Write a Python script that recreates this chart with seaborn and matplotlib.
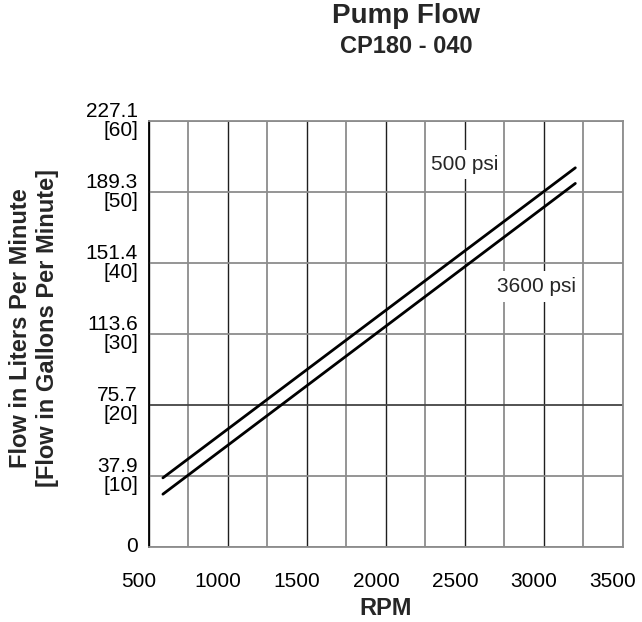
import matplotlib
matplotlib.use("Agg")
import matplotlib.pyplot as plt
from matplotlib.ticker import MultipleLocator
from matplotlib.transforms import ScaledTranslation
import seaborn as sns

# Data (flow in GPM vs pump speed)
rpm = [590, 3200]
gpm_500psi = [9.7, 53.4]
gpm_3600psi = [7.4, 51.2]

ytick_values = [0, 10, 20, 30, 40, 50, 60]
ytick_labels = ["0", "37.9\n[10]", "75.7\n[20]", "113.6\n[30]",
                "151.4\n[40]", "189.3\n[50]", "227.1\n[60]"]
xtick_values = [500, 1000, 1500, 2000, 2500, 3000, 3500]

sns.set_style("white")
plt.rcParams["font.family"] = ["Liberation Sans", "DejaVu Sans"]

fig = plt.figure(figsize=(6.42, 6.22), dpi=100)
ax = fig.add_axes([0.2316, 0.1211, 0.7384, 0.6844])

sns.lineplot(x=rpm, y=gpm_500psi, color="black", linewidth=2.0, ax=ax)
sns.lineplot(x=rpm, y=gpm_3600psi, color="black", linewidth=2.0, ax=ax)

ax.set_xlim(500, 3500)
ax.set_ylim(0, 60)
ax.set_xticks(xtick_values)
ax.xaxis.set_minor_locator(MultipleLocator(250))
ax.set_yticks(ytick_values)
ax.set_yticklabels(ytick_labels, linespacing=1.0, va="center")
ax.yaxis.set_minor_locator(MultipleLocator(5))

# grid: dark lines every 500 rpm, grey in between
ax.set_axisbelow(True)
ax.grid(which="major", axis="x", color="#1e1e1e", linewidth=1.0)
ax.grid(which="minor", axis="x", color="#8c8c8c", linewidth=1.3)
ax.grid(which="major", axis="y", color="#8c8c8c", linewidth=1.3)
ax.yaxis.get_gridlines()[2].set_color("#444444")

ax.tick_params(axis="x", which="major", labelsize=15, colors="black")
ax.tick_params(axis="y", which="major", labelsize=15, colors="black")
ax.tick_params(axis="x", which="major", direction="out", length=6, width=1.1, pad=12)
ax.tick_params(axis="x", which="minor", direction="out", length=4.5, width=1.0, color="#777777")
ax.tick_params(axis="y", which="major", direction="inout", length=9.5, width=1.1, pad=3)
ax.tick_params(axis="y", which="minor", direction="inout", length=5, width=1.0)

# x tick labels sit a little left of their ticks in the original
shift = ScaledTranslation(-7 / 72, 0, fig.dpi_scale_trans)
for lbl in ax.get_xticklabels():
    lbl.set_transform(lbl.get_transform() + shift)

for side in ["top", "right", "bottom"]:
    ax.spines[side].set_color("#8c8c8c")
    ax.spines[side].set_linewidth(1.3)
ax.spines["left"].set_color("black")
ax.spines["left"].set_linewidth(1.3)

ax.text(2285, 53.9, "500 psi", fontsize=15, ha="left", va="center",
        bbox=dict(boxstyle="square,pad=0.25", facecolor="white", edgecolor="none"))
ax.text(2704, 36.7, "3600 psi", fontsize=15, ha="left", va="center",
        bbox=dict(boxstyle="square,pad=0.3", facecolor="white", edgecolor="none"))

ax.set_xlabel("RPM", fontsize=17, fontweight="bold")
ax.xaxis.set_label_coords(0.5, -0.118)
ax.set_ylabel("Flow in Liters Per Minute\n[Flow in Gallons Per Minute]",
              fontsize=17, fontweight="bold")
ax.yaxis.set_label_coords(-0.189, 0.514)

fig.text(0.633, 0.974, "Pump Flow", fontsize=20, fontweight="bold",
         ha="center", va="center")
fig.text(0.633, 0.9255, "CP180 - 040", fontsize=17, fontweight="bold",
         ha="center", va="center")

fig.savefig("out.png", dpi=100)
